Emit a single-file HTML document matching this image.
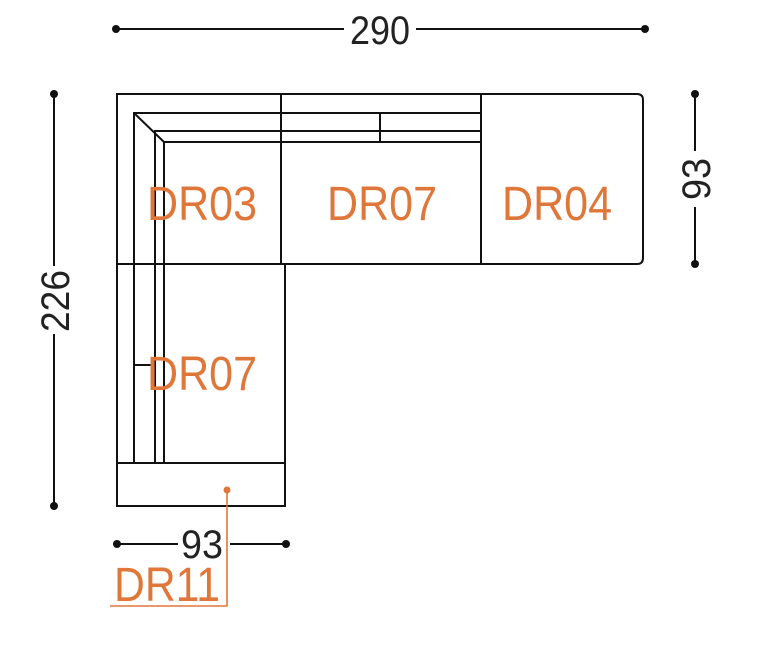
<!DOCTYPE html>
<html><head><meta charset="utf-8"><style>
html,body{margin:0;padding:0;background:#fff;}
svg{display:block;}
.l{fill:none;stroke:#111;stroke-width:2;}
.d{font-family:"Liberation Sans",sans-serif;fill:#222;}
.o{font-family:"Liberation Sans",sans-serif;fill:#e0773a;}
</style></head><body>
<svg width="768" height="651" viewBox="0 0 768 651" xmlns="http://www.w3.org/2000/svg">
<!-- top dimension -->
<line class="l" x1="116" y1="29" x2="344" y2="29"/>
<line class="l" x1="416" y1="29" x2="645" y2="29"/>
<circle cx="116" cy="29" r="4" fill="#111"/><circle cx="645" cy="29" r="4" fill="#111"/>
<text class="d" x="350" y="44" font-size="40" textLength="60" lengthAdjust="spacingAndGlyphs">290</text>
<!-- left dimension -->
<line class="l" x1="54" y1="94" x2="54" y2="266"/>
<line class="l" x1="54" y1="334" x2="54" y2="506"/>
<circle cx="54" cy="94" r="4" fill="#111"/><circle cx="54" cy="506" r="4" fill="#111"/>
<text class="d" transform="translate(69,332) rotate(-90)" font-size="40" textLength="62" lengthAdjust="spacingAndGlyphs">226</text>
<!-- right dimension -->
<line class="l" x1="695" y1="94" x2="695" y2="151"/>
<line class="l" x1="695" y1="207" x2="695" y2="264"/>
<circle cx="695" cy="94" r="4" fill="#111"/><circle cx="695" cy="264" r="4" fill="#111"/>
<text class="d" transform="translate(710,200) rotate(-90)" font-size="40" textLength="42" lengthAdjust="spacingAndGlyphs">93</text>
<!-- bottom dimension -->
<line class="l" x1="117" y1="544" x2="178" y2="544"/>
<line class="l" x1="230" y1="544" x2="286" y2="544"/>
<circle cx="117" cy="544" r="4" fill="#111"/><circle cx="286" cy="544" r="4" fill="#111"/>
<text class="d" x="181" y="558" font-size="40" textLength="42" lengthAdjust="spacingAndGlyphs">93</text>

<!-- sofa outline -->
<path class="l" d="M117 94 H637 Q643 94 643 100 V258 Q643 264 637 264 H285 V506 H117 Z"/>
<line class="l" x1="281" y1="94" x2="281" y2="264"/>
<line class="l" x1="481" y1="94" x2="481" y2="264"/>
<!-- backrest lines -->
<path class="l" d="M134 463 V113 H481"/>
<path class="l" d="M155 463 V131 H481"/>
<path class="l" d="M164 463 V142 H481"/>
<line class="l" x1="134" y1="113" x2="164" y2="142"/>
<line class="l" x1="380" y1="113" x2="380" y2="142"/>
<line class="l" x1="117" y1="264" x2="285" y2="264"/>
<line class="l" x1="117" y1="463" x2="285" y2="463"/>
<path class="l" d="M134 365 H155"/>

<!-- labels -->
<text class="o" x="147" y="220" font-size="48" textLength="110" lengthAdjust="spacingAndGlyphs">DR03</text>
<text class="o" x="327" y="220" font-size="48" textLength="110" lengthAdjust="spacingAndGlyphs">DR07</text>
<text class="o" x="502" y="220" font-size="48" textLength="110" lengthAdjust="spacingAndGlyphs">DR04</text>
<text class="o" x="147" y="390" font-size="48" textLength="110" lengthAdjust="spacingAndGlyphs">DR07</text>
<text class="o" x="114" y="601" font-size="48" textLength="106" lengthAdjust="spacingAndGlyphs">DR11</text>
<!-- leader -->
<circle cx="227" cy="490" r="3.5" fill="#e0773a"/>
<path d="M227 490 V606 H110" fill="none" stroke="#e0773a" stroke-width="1.6"/>
</svg>
</body></html>
